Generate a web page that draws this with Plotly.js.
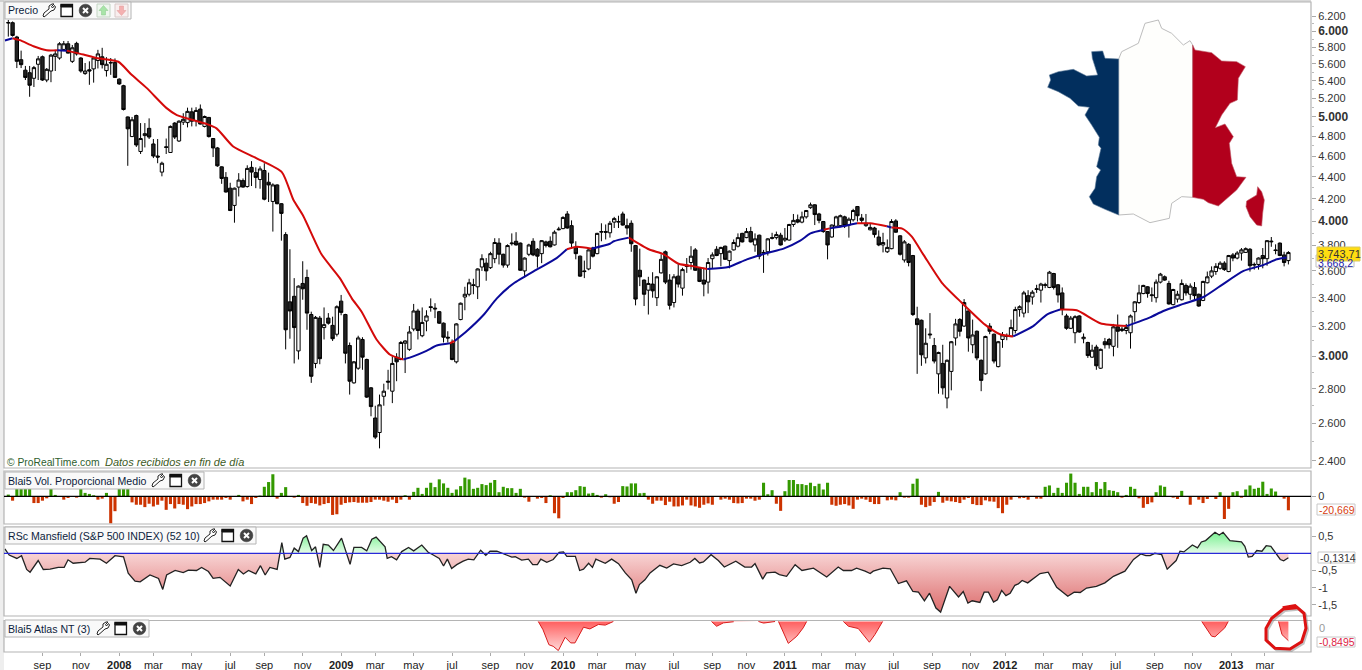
<!DOCTYPE html>
<html><head><meta charset="utf-8">
<script src="https://cdn.plot.ly/plotly-3.0.1.min.js"></script>
<style>html,body{margin:0;padding:0;background:#fff;overflow:hidden}#c{width:1362px;height:670px}</style>
</head><body><div id="c"></div>
<script>
const opens=[6110,6114,5930,5650,5525,5495,5430,5595,5685,5410,
5515,5690,5670,5775,5845,5630,5850,5670,5485,5530,
5540,5640,5685,5520,5610,5615,5420,5345,5000,4795,
5015,4645,4805,4880,4720,4600,4445,4685,4635,4935,
4750,4945,4940,5055,4960,5085,4900,4995,4775,4680,
4495,4395,4295,4140,4305,4365,4310,4490,4440,4375,
4460,4350,4175,4325,4155,3890,3370,3410,3035,3505,
3550,3280,2955,3255,3190,3255,3205,3145,3375,3280,
3070,2835,2925,3110,2980,2805,2630,2550,2755,2845,
2785,2995,2980,3085,3045,3180,3305,3135,3235,3335,
3325,3300,3220,3125,3085,2965,3245,3405,3425,3495,
3480,3630,3660,3625,3695,3820,3730,3645,3815,3835,
3820,3600,3730,3835,3770,3735,3830,3835,3805,3930,
3940,4065,3965,3785,3715,3600,3615,3780,3735,3910,
3915,3905,3995,3995,4065,3965,3985,3800,3605,3530,
3455,3500,3400,3585,3750,3530,3365,3560,3470,3645,
3665,3765,3625,3530,3515,3695,3770,3735,3795,3680,
3765,3795,3900,3865,3915,3805,3885,3745,3750,3865,
3865,3885,3845,3845,3975,4015,3995,4040,4120,4145,
4065,4000,3915,3870,3960,3965,4040,3970,4015,4130,
4030,3965,3930,3945,3870,3805,3750,3775,4005,3880,
3685,3810,3720,3250,3240,2990,3140,3070,2890,2955,
2745,2905,3120,3245,3200,3305,3075,3165,2975,2890,
3200,3145,2935,3110,3130,3130,3170,3315,3290,3415,
3405,3460,3455,3490,3475,3580,3495,3435,3270,3185,
3155,3270,3115,3090,2995,3060,2925,3095,3110,3065,
3195,3170,3170,3155,3300,3365,3430,3480,3415,3400,
3515,3555,3505,3350,3390,3385,3490,3425,3475,3425,
3380,3510,3560,3595,3620,3660,3595,3725,3700,3740,
3745,3770,3645,3650,3720,3695,3830,3765,3820,3725,3680];
const highs=[6150,6130,5945,5760,5575,5575,5575,5695,5700,5550,
5720,5770,5865,5880,5880,5830,5870,5680,5610,5630,
5680,5770,5795,5680,5670,5665,5430,5355,5005,5000,
5025,4935,4935,4985,4770,4770,4545,4775,4910,4945,
4965,5040,5100,5100,5105,5135,5015,5000,4780,4690,
4500,4445,4345,4300,4435,4385,4510,4550,4490,4500,
4530,4440,4340,4330,4160,3910,3770,3545,3490,3675,
3610,3300,3270,3270,3330,3290,3265,3345,3420,3285,
3090,2970,3135,3125,2985,2810,2700,2765,2830,2915,
3000,3020,3100,3105,3200,3355,3320,3330,3310,3395,
3360,3305,3225,3165,3110,3220,3365,3480,3540,3540,
3620,3730,3700,3750,3860,3860,3735,3810,3900,3910,
3825,3705,3815,3860,3780,3845,3840,3875,3925,3955,
4045,4090,4010,3835,3720,3680,3770,3790,3905,3985,
3975,4005,4040,4050,4085,4025,4010,3805,3775,3535,
3555,3590,3560,3730,3760,3575,3575,3655,3625,3700,
3795,3780,3630,3625,3700,3745,3795,3790,3800,3760,
3850,3900,3905,3945,3955,3900,3890,3765,3860,3905,
3915,3905,3945,3980,4065,4060,4085,4100,4165,4150,
4075,4005,3920,3975,4050,4060,4050,4035,4110,4135,
4065,4065,3985,3955,3925,3905,3850,4020,4020,3885,
3845,3820,3725,3335,3245,3185,3290,3120,3030,3075,
2980,3100,3250,3255,3390,3310,3245,3170,2980,3135,
3220,3150,3100,3160,3150,3245,3335,3345,3450,3455,
3455,3495,3510,3510,3600,3585,3500,3475,3285,3270,
3275,3275,3150,3095,3075,3075,3050,3120,3120,3215,
3280,3195,3215,3280,3375,3495,3495,3485,3475,3535,
3585,3565,3525,3465,3450,3535,3505,3505,3515,3430,
3525,3595,3635,3660,3675,3675,3725,3740,3755,3780,
3785,3780,3665,3705,3780,3845,3870,3810,3825,3750,3755];
const lows=[5935,5935,5550,5550,5410,5220,5330,5410,5400,5385,
5385,5515,5650,5755,5725,5610,5700,5495,5470,5355,
5380,5545,5545,5450,5470,5440,5355,5070,4505,4790,
4690,4620,4685,4770,4580,4530,4405,4620,4630,4770,
4740,4915,4890,4900,4900,4920,4890,4785,4590,4495,
4335,4255,4090,3990,4220,4300,4300,4315,4295,4290,
4185,4170,3915,4150,3840,3045,3115,2955,2980,3385,
3175,2835,2925,2950,3110,3210,3100,3130,3275,2955,
2765,2830,2915,2915,2745,2640,2515,2465,2700,2795,
2715,2845,2975,2895,3035,3165,3110,3125,3165,3300,
3255,3215,3090,3090,2975,2955,3240,3310,3410,3425,
3390,3600,3525,3615,3660,3650,3625,3625,3800,3800,
3600,3550,3715,3715,3625,3660,3785,3785,3800,3925,
3935,3940,3780,3690,3555,3545,3605,3705,3730,3835,
3850,3865,3945,3945,3965,3890,3750,3345,3485,3340,
3280,3400,3340,3580,3500,3315,3330,3475,3415,3585,
3610,3600,3515,3410,3430,3620,3715,3635,3685,3620,
3760,3785,3825,3860,3825,3750,3690,3585,3720,3850,
3850,3800,3830,3840,3955,3985,3985,4025,4110,3970,
3985,3905,3690,3865,3945,3960,3945,3865,4000,4000,
3980,3955,3925,3865,3795,3745,3740,3770,3905,3720,
3665,3635,3270,2890,2940,2955,3115,2955,2770,2765,
2685,2790,3070,3130,3195,3030,3020,2975,2785,2885,
3145,2955,2930,3055,3105,3125,3150,3265,3260,3290,
3350,3435,3365,3470,3470,3460,3365,3275,3175,3180,
3085,3155,3085,2990,2990,2915,2920,3050,3050,3000,
3055,3160,3145,3050,3230,3355,3425,3400,3370,3365,
3505,3525,3350,3345,3365,3380,3415,3385,3385,3335,
3375,3505,3545,3570,3610,3600,3590,3675,3690,3680,
3740,3595,3610,3610,3620,3640,3790,3730,3715,3635,3650];
const closes=[6115,5950,5630,5590,5440,5350,5555,5660,5410,5535,
5705,5720,5845,5845,5730,5795,5720,5515,5515,5515,
5670,5720,5590,5595,5615,5440,5365,5080,4875,4970,
4710,4775,4825,4790,4600,4590,4530,4690,4900,4790,
4955,4975,5060,4955,5070,4925,5005,4795,4680,4505,
4385,4260,4095,4295,4370,4305,4480,4445,4395,4475,
4195,4325,4325,4155,4070,3175,3305,3190,3485,3465,
3290,2875,3260,2985,3210,3220,3115,3335,3295,3020,
2845,2965,3120,2995,2750,2695,2525,2705,2785,2840,
2955,2965,3090,3100,3160,3305,3170,3225,3270,3330,
3320,3220,3125,3120,2980,3215,3360,3425,3510,3490,
3615,3695,3600,3735,3825,3730,3645,3800,3820,3805,
3605,3700,3805,3725,3715,3840,3800,3790,3910,3935,
4035,3945,3820,3735,3560,3595,3765,3715,3900,3915,
3910,3985,4025,4000,3970,3945,3815,3390,3555,3425,
3505,3450,3555,3690,3515,3345,3555,3500,3610,3635,
3715,3605,3520,3500,3665,3725,3720,3785,3690,3755,
3825,3865,3830,3915,3830,3855,3715,3740,3855,3860,
3890,3805,3860,3975,4010,3995,4040,4095,4145,4060,
4010,3915,3805,3970,4040,4050,3965,4020,4095,4050,
4010,3985,3950,3890,3805,3825,3785,4000,3910,3730,
3830,3665,3280,3210,3010,3085,3145,2970,3025,2805,
2975,3095,3215,3165,3365,3120,3140,2990,2850,3130,
3165,2970,3095,3140,3135,3190,3315,3335,3435,3370,
3440,3465,3500,3495,3590,3475,3420,3315,3185,3255,
3265,3160,3125,3005,3040,2940,3045,3075,3075,3195,
3165,3180,3190,3270,3370,3435,3490,3430,3420,3515,
3575,3530,3355,3460,3425,3505,3435,3485,3415,3340,
3520,3555,3600,3635,3660,3610,3720,3700,3740,3765,
3775,3640,3650,3700,3695,3840,3835,3760,3720,3665,3743.71];

const maIdx=[-0.8,1,2.7,5.9,9,11.5,13.7,17.6,20.7,25.8,28.9,32.4,37.1,39.5,46.5,48.8,52.7,58.2,64.1,66.8,69.1,73.4,77.7,80.5,82.8,86.3,89.5,92.6,94.9,98,100.4,103.5,104.6,107.4,111.3,114.5,118.4,123.8,128.5,130.9,133.2,136.7,141,141.9,145.4,150.1,153.6,157.1,160.6,163.8,168.8,173.1,177.8,181.7,185.6,188,191.1,192.5,195,198.9,202,205.9,207,209.5,211.7,214.5,218.8,223.4,228.9,232.4,235.5,240.2,243.4,246.5,250.4,255.9,262.1,267.6,270.7,275.4,280.1,284,289.5,294.1,297.3,299.6];
const maVal=[5885,5915,5890,5815,5765,5765,5760,5712,5670,5625,5470,5320,5095,5020,4925,4880,4695,4578,4445,4190,4050,3730,3545,3395,3300,3110,3010,2980,3000,3035,3070,3085,3100,3165,3275,3395,3505,3610,3700,3770,3790,3775,3815,3835,3865,3770,3730,3655,3635,3615,3630,3690,3740,3775,3840,3900,3930,3942,3955,3985,3985,3960,3950,3940,3875,3725,3510,3365,3210,3145,3130,3200,3280,3315,3310,3220,3200,3260,3305,3355,3405,3485,3600,3645,3690,3705];
const maColorSpans=[[1,"#0a0a9a"],[11.5,"#d40a0a"],[13.7,"#0a0a9a"],[92.6,"#d40a0a"],[103.5,"#0a0a9a"],[104.6,"#d40a0a"],[132,"#0a0a9a"],[136.7,"#d40a0a"],[145.4,"#0a0a9a"],[163.8,"#d40a0a"],[191.1,"#0a0a9a"],[192.5,"#d40a0a"],[198.9,"#0a0a9a"],[205.9,"#d40a0a"],[207,"#0a0a9a"],[235.5,"#d40a0a"],[246.5,"#0a0a9a"],[262.1,"#d40a0a"],[301,"#0a0a9a"]];

const volumes=[2.5,-6.5,11,11,11,11,-10,-10,-6.5,-3,
11,2,0,-5,-2.5,0,-2,11,5,3.5,
1.5,-5,-3.5,5,-40,-22,11,11,11,-9,
-12.5,-12.5,-16,-11,-15,-12.5,-6.5,-20,-11.5,-18,
-11.5,-12.5,-19,-15,-11.5,-11.5,-10,-7.5,-5,-5,
-5,-2.5,-5,0,2,-7.5,-5,-11.5,-2.5,1,
14,21,32.5,-3.5,5,13.5,0,-2,2,-10,
-14,-10,-11,-13.5,-11.5,-10,-27.5,-26.5,-12.5,-10,
-9,-8.5,-9.5,-9.5,-9.5,-8.5,-5,-5,-6.5,-8,
-5,-10,-5,1.5,-5,6.5,12.5,3.5,12.5,20,
13.5,25,19,12.5,5,10,15,27.5,25,11,
12.5,18,16.5,20,24,6,14,12,12,5,
11,-2,-8,0,-3.5,-2.5,-10,1.5,-25,-32.5,
-2.5,6,6,9,15,14,4,5,2,-2,
3,-1.5,-11,-8.5,15,14.5,19,19,4.5,5,
-5,-11,-6.5,-6.5,-13,-8,-15,-15,-13.5,-5,
-13.5,-15,-17,-12.5,-10.5,-12.5,0,-5,-3.5,-5,
-10,-10.5,-10,-3.5,-3.5,-6.5,-5,20,3,9,
-11,-21.5,7.5,24,24,18,18,16.5,20,15,
18.5,10,20,-12.5,-14,-12.5,-11.5,-13.5,-18.5,-5,
-3.5,-5,-8.5,-11.5,-11.5,0,-6,-5,-6,6,
-2,-2,18.5,26,-12.5,-16,-14,-8.5,6.5,-9.5,
-6.5,-7.5,-8.5,-10,-5,-2.5,-11.5,-13,-13,-6,
-7.5,-8,-17.5,-25,-12.5,-5,0,-3,-2.5,-5,
0,-3.5,-3.5,14,16,5,12.5,5,20,33.5,
20,3.5,14,14,6,21,11,21,9,8,
6,-2,2,14,11,-3,-17,-11.5,-9,6,
16,14,0,-2,-4,8,0,-12.5,0,-5,
-10,-4,0,-4,6,-33.5,-18.5,6,7.5,-2,
10,16,11,12.5,21.5,3.5,11.5,7,0,-3.5,-20.669];

const rsIdx=[-0.8,.2,2,3.1,4.3,5.1,7,8.2,9.8,11.7,13.1,14,15.2,18,19.1,21.5,23,25,27,28.1,29.7,30.9,33.2,35.2,36.2,37.1,39.1,41,42.2,44.1,45.3,46.9,48,49.6,52,53.9,55.1,56.3,58,59.1,60.2,61.3,63,64.1,64.8,66,67,68,69.1,69.9,71.1,72,73,73.8,75,76.2,78.1,80.1,81,82.8,84,85.2,86.2,88.3,88.8,89.8,91,92.2,93.8,95,96.9,98.4,99.6,101,102,102.9,103.9,
105.1,106.6,107.8,109.1,110.7,111.9,112.9,114.5,116.4,118,118.8,120.3,121.9,122.9,124,124.8,126.2,127.7,129.1,130.1,130.9,132.9,133.9,134.8,136,136.9,137.7,139.9,141.4,143,144.6,146.1,147.1,147.9,149.2,150.4,152.7,154.3,155.9,157.8,159.8,160.9,162,162.9,164.7,166.4,167.8,170.5,172.6,174.2,175,176.8,177.7,179.7,180.7,182.4,184.4,186,188.7,191.8,194.5,195.7,197.6,198.8,200.8,202,202.7,205,206.7,208.6,
210.5,212,213.3,214.7,215.9,217.4,218.5,220.6,222.7,223.8,224.9,225.9,227.7,228.7,229.7,230.9,231.8,232.8,233.8,234.8,235.9,236.7,237.6,238.9,241.8,243.7,245.7,248.3,249.8,251.2,252.7,255,257,259,261.7,263.7,265.4,266.6,267.6,268.7,270.3,271.6,273.7,274.6,275.5,277.5,278.7,279.6,280.6,282.8,283.8,284.7,286.3,289,289.8,290.6,291.5,292.6,293.8,294.8,295.9,298.1,298.9,300];
const rsVal=[.13,-.05,-.15,-.07,-.47,-.55,-.21,-.47,-.46,-.41,-.41,-.19,-.29,-.26,-.15,-.17,-.29,-.07,-.10,-.58,-.81,-.83,-.63,-.73,-1.05,-.63,-.50,-.56,-.49,-.50,-.41,-.53,-.73,-.70,-.95,-.47,-.60,-.50,-.60,-.36,-.63,-.41,-.47,.31,-.17,-.12,.15,.05,.44,.51,.08,.19,-.41,.26,.24,.08,.44,-.32,.17,.17,.07,.41,.47,.19,-.15,-.10,-.19,.05,.17,.07,.24,.03,-.05,-.15,-.37,-.17,-.44,
-.33,-.23,-.17,-.19,.09,-.06,.06,.06,-.02,-.11,-.10,-.20,-.17,-.33,-.33,-.17,-.26,-.18,.03,.04,-.09,-.09,-.50,-.46,-.29,-.41,-.17,-.29,-.17,-.30,-.57,-.77,-1.16,-.91,-.77,-.57,-.35,-.43,-.31,-.36,-.26,-.15,-.28,-.25,-.04,-.21,-.40,-.23,-.40,-.40,-.30,-.75,-.57,-.55,-.62,-.67,-.33,-.50,-.43,-.69,-.40,-.50,-.50,-.43,-.52,-.59,-.52,-.43,-.45,-.88,
-.80,-1.11,-1.13,-1.38,-1.16,-1.59,-1.71,-.96,-1.27,-1.11,-1.45,-1.38,-1.43,-1.13,-1.13,-1.42,-1.35,-1.08,-1.23,-1.16,-.93,-.89,-.79,-.86,-.59,-.55,-.99,-1.25,-1.13,-1.14,-1.01,-.96,-.86,-.67,-.52,-.18,-.02,-.07,-.07,0,-.04,-.46,-.21,.06,.04,.24,.16,.33,.37,.61,.53,.61,.37,.33,.20,-.11,-.09,.08,.06,.22,.20,-.18,-.22,-.1314];

const atIdx=[124.2,125.3,126.7,127.7,128.9,130.5,131.8,132.8,134.8,136.3,138.3,139.9,141.8,null,164.8,166,167.6,170,null,175.8,177,179.7,null,180.5,182.8,184.8,186.3,187.1,null,195.7,196.9,199.2,200.4,201.8,203.1,204.9,null,279.7,282,282.8,285.1,285.9,null,297.7,298.5,300];
const atVal=[0,-.36,-1.03,-1.10,-1.29,-.70,-.95,-.95,-.25,-.33,-.13,-.16,0,null,0,-.21,-.06,-.01,null,0,-.07,0,null,0,-.97,-.65,-.28,0,null,0,-.21,-.31,-.58,-.92,-.58,0,null,0,-.65,-.68,-.28,0,null,0,-.58,-.8495];

const xTickIdx=[8,17,26,34,43,52,60,69,78,86,95,104,113,121,130,138,147,156,165,173,182,190.5,198.5,207.5,216.5,225.5,233.6,242.7,251.7,259.5,268.7,277.6,286.6,294.5];
const xTickText=["sep","nov","2008","mar","may","jul","sep","nov","2009","mar","may","jul","sep","nov","2010","mar","may","jul","sep","nov","2011","mar","may","jul","sep","nov","2012","mar","may","jul","sep","nov","2013","mar"];
const priceTicks=[6200,6000,5800,5600,5400,5200,5000,4800,4600,4400,4200,4000,3800,3600,3400,3200,3000,2800,2600,2400];
const priceMinor=[6100,5900,5700,5500,5300,5100,4900,4700,4500,4300,4100,3900,3700,3500,3300,3100,2900,2700,2500];
const rsTicks=[.5,-.5,-1,-1.5], rsTickText=["0,5","-0,5","-1","-1,5"];

const W=1362,H=670, X=p=>p/W, Y=p=>1-p/H;
const FONT='"Liberation Sans",Arial,sans-serif';
const idx=opens.map((_,i)=>i);
const fmtPrice=v=>{const s=Math.floor(v/1000)+"."+String(v%1000).padStart(3,"0");return v%1000===0?'<span style="font-size:12px"><b>'+s+'</b></span>':s;};
const fmtX=s=>/^\d+$/.test(s)?'<b>'+s+'</b>':s;

const traces=[{type:"candlestick",x:idx,open:opens,high:highs,low:lows,close:closes,xaxis:"x",yaxis:"y",
 increasing:{line:{color:"#000",width:1},fillcolor:"#fafafa"},decreasing:{line:{color:"#000",width:1},fillcolor:"#222"},whiskerwidth:0,hoverinfo:"skip",showlegend:false}];

// moving average, one trace for each coloured stretch
function colorAt(x){for(const s of maColorSpans){if(x<=s[0])return s[1];}return "#0a0a9a";}
let runStart=0;
for(let i=1;i<maIdx.length;i++){
  const c=colorAt((maIdx[i-1]+maIdx[i])/2);
  const next=i<maIdx.length-1?colorAt((maIdx[i]+maIdx[i+1])/2):null;
  if(next!==c){
    traces.push({type:"scatter",mode:"lines",x:maIdx.slice(runStart,i+1),y:maVal.slice(runStart,i+1),xaxis:"x",yaxis:"y",
      line:{color:c,width:2,shape:"spline",smoothing:.6},hoverinfo:"skip",showlegend:false});
    runStart=i;
  }
}
traces.push({type:"bar",x:idx,y:volumes,xaxis:"x",yaxis:"y2",width:.72,marker:{color:volumes.map(v=>v>=0?"#339900":"#cc3300"),line:{width:0}},hoverinfo:"skip",showlegend:false});

// relative strength: split at zero crossings for the two fills
const nx=[],ny=[],px=[],py=[];
for(let i=0;i<rsIdx.length;i++){
  if(i>0&&rsVal[i-1]*rsVal[i]<0){
    const t=rsVal[i-1]/(rsVal[i-1]-rsVal[i]),xc=rsIdx[i-1]+t*(rsIdx[i]-rsIdx[i-1]);
    nx.push(xc);ny.push(0);px.push(xc);py.push(0);
  }
  nx.push(rsIdx[i]);ny.push(Math.min(rsVal[i],0));
  px.push(rsIdx[i]);py.push(Math.max(rsVal[i],0));
}
traces.push({type:"scatter",mode:"lines",x:nx,y:ny,xaxis:"x",yaxis:"y3",fill:"tozeroy",line:{width:0},
 fillgradient:{type:"vertical",colorscale:[[0,"#dc6a6a"],[1,"#f8d4d4"]],start:-1.75,stop:0},hoverinfo:"skip",showlegend:false});
traces.push({type:"scatter",mode:"lines",x:px,y:py,xaxis:"x",yaxis:"y3",fill:"tozeroy",line:{width:0},
 fillgradient:{type:"vertical",colorscale:[[0,"#e6fce8"],[1,"#78f090"]],start:0,stop:.62},hoverinfo:"skip",showlegend:false});
traces.push({type:"scatter",mode:"lines",x:rsIdx,y:rsVal,xaxis:"x",yaxis:"y3",line:{color:"#222",width:1.3},hoverinfo:"skip",showlegend:false});
traces.push({type:"scatter",mode:"lines",x:atIdx,y:atVal,xaxis:"x",yaxis:"y4",fill:"tozeroy",line:{color:"#d81c1c",width:1},
 fillgradient:{type:"vertical",colorscale:[[0,"#ffdada"],[1,"#ff5f5f"]],start:-1.3,stop:0},hoverinfo:"skip",showlegend:false});

const shapes=[],annotations=[];
const poly=(pts,fill,line,width,closed=true,layer="above")=>shapes.push({type:"path",xref:"paper",yref:"paper",layer,
  path:"M"+pts.map(p=>X(p[0]).toFixed(5)+" "+Y(p[1]).toFixed(5)).join("L")+(closed?"Z":""),fillcolor:fill||"rgba(0,0,0,0)",line:{color:line||"rgba(0,0,0,0)",width:width||0}});
const rect=(x0,y0,x1,y1,fill,line,width=1,layer="above")=>shapes.push({type:"rect",xref:"paper",yref:"paper",layer,x0:X(x0),x1:X(x1),y0:Y(y0),y1:Y(y1),fillcolor:fill||"rgba(0,0,0,0)",line:{color:line||"rgba(0,0,0,0)",width:line?width:0}});
const text=(x,y,s,opt={})=>annotations.push({xref:"paper",yref:"paper",x:X(x-2),y:Y(y),xanchor:"left",yanchor:"middle",showarrow:false,text:s,font:{family:FONT,size:opt.size||12,color:opt.color||"#222"}});

// frames
rect(0,0,4,H,"#eeeeee",null,0,"below");
const GREY="#b4b4b4";
rect(4,2,1311,468,null,GREY,1.2); rect(4,471,1311,524,null,GREY,1.2); rect(4,527,1311,616,null,GREY,1.2); rect(4,620.5,1311,652,null,GREY,1.2);
poly([[0,1],[1311,1]],null,GREY,1,false);
// zero lines
shapes.push({type:"line",xref:"paper",yref:"y2",x0:X(4),x1:X(1311),y0:0,y1:0,line:{color:"#000",width:1.3},layer:"above"});
shapes.push({type:"line",xref:"paper",yref:"y3",x0:X(4),x1:X(1311),y0:0,y1:0,line:{color:"#2a2ad8",width:1.2},layer:"above"});

// small toolbar icons
function wrench(x,y){poly([[x,y+12],[x+1,y+9],[x+6,y+5],[x+6,y+2],[x+9,y],[x+11,y],[x+8.5,y+2.5],[x+9.5,y+4],[x+11.5,y+1.5],[x+12.5,y+3],[x+11,y+6],[x+8,y+7],[x+3,y+11.5],[x+1,y+13]],"#fff","#222",1);}
function win(x,y){rect(x,y+1,x+11.5,y+13,"#fff","#111",1.3);rect(x,y+1,x+11.5,y+3.5,"#111","#111",1);}
function closeIcon(x,y){const c=[];for(let a=0;a<24;a++)c.push([x+6.5+6.3*Math.cos(a*Math.PI/12),y+7+6.3*Math.sin(a*Math.PI/12)]);poly(c,"#444","#333",.5);
  poly([[x+4,y+4.5],[x+9,y+9.5]],null,"#fff",2,false);poly([[x+9,y+4.5],[x+4,y+9.5]],null,"#fff",2,false);}
function legendBox(x1,y,label,wx){rect(5,y,x1,y+17,"#f9f9f9",GREY,1);text(8,y+8.5,label,{size:10.6,color:"#0c1c3c"});wrench(wx,y+2);win(wx+18,y+1.5);closeIcon(wx+36,y+1.5);}
legendBox(131,2,"Precio",43);
rect(97,4,110,17,"#eef6ee","#c4d4c4",1);poly([[103.5,5.5],[108,10.5],[105.5,10.5],[105.5,15],[101.5,15],[101.5,10.5],[99,10.5]],"#a8e4a8","#88c888",.5);
rect(115,4,128,17,"#f8eeee","#d8c8c8",1);poly([[121.5,15.5],[126,10.5],[123.5,10.5],[123.5,6],[119.5,6],[119.5,10.5],[117,10.5]],"#f4b0b0","#e09898",.5);
legendBox(204,472,"Blai5 Vol. Proporcional Medio",152);
legendBox(256,527,"RSc Mansfield (S&amp;P 500 INDEX) (52 10)",204);
legendBox(149,620,"Blai5 Atlas NT (3)",97);
text(7,462,"© ProRealTime.com",{size:10.3,color:"#2e5e2e"});
text(105,462,"<i>Datos recibidos en fin de día</i>",{size:11,color:"#3d5a1e"});

// flag map
const fp=a=>a.map(p=>[1030+p[0]/3,p[1]/3]);
const flagBlue=[[266,177],[225,175],[218,153],[185,155],[187,175],[203,225],[170,228],[130,208],[85,215],[58,225],[62,240],[53,262],[85,275],[120,295],[145,318],[178,322],[165,345],[185,375],[208,412],[205,435],[213,445],[205,480],[200,500],[212,510],[200,530],[195,565],[178,590],[190,612],[225,628],[266,645]];
const flagWhite=[[266,177],[275,155],[325,130],[345,70],[385,60],[395,85],[425,100],[460,135],[480,122],[488,135],[488,592],[455,590],[425,610],[418,655],[360,668],[310,642],[266,645]];
const flagRed=[[488,135],[495,150],[545,158],[575,183],[620,185],[646,200],[625,235],[622,300],[600,310],[575,345],[556,383],[585,372],[610,410],[598,430],[605,490],[620,530],[648,532],[620,570],[565,618],[535,608],[520,598],[488,592]];
const corsica=[[683,560],[695,575],[703,600],[698,640],[695,678],[680,675],[660,650],[648,620],[650,603],[680,585]];
poly(fp(flagWhite),"#fefefc","#bdbdbd",1);poly(fp(flagBlue),"#022f5e","#5d7a98",.6);poly(fp(flagRed),"#b2001c","#c05a68",.6);poly(fp(corsica),"#b2001c","#c05a68",.6);

// right hand value boxes
rect(1316,255,1354,267,"#fff","#c0c0c0",1);text(1318,262.5,"3.668,2",{size:10.5,color:"#2222aa"});
rect(1317,247,1360,261,"#ffdd11","#d8c860",1);text(1318,254.3,"3.743,71",{size:11,color:"#333"});
rect(1317,504,1355,515,"#fff","#c8c8c8",1);text(1318.5,509.7,"-20,669",{size:10.5,color:"#d84010"});
rect(1318,552,1355,563,"#fff","#c8c8c8",1);text(1319.5,557.7,"-0,1314",{size:10.5,color:"#333"});
text(1319,628,"0",{size:11,color:"#999"});
rect(1317,637,1355,647,"#fff","#c8c8c8",1);text(1318.5,642.2,"-0,8495",{size:10.5,color:"#dd2244"});

// hand drawn ring and its shadow
const ring=[[1148,428],[1185,422],[1212,445],[1218,490],[1205,530],[1170,552],[1125,550],[1098,525],[1098,490],[1115,460],[1150,432],[1190,428]];
const rp=(a,d)=>a.map(p=>[900+p[0]/3+d,465+p[1]/3+d]);
poly(rp(ring,1.5),null,"rgba(120,120,120,.45)",3,false);
poly(rp(ring,0),null,"#dd1212",3,false);

const tickFont={family:FONT,size:11,color:"#333"};
const yBase={side:"right",anchor:"x",showgrid:false,zeroline:false,ticks:"outside",ticklen:4,tickcolor:"#aaa",tickfont:tickFont,showline:false,tickmode:"array",fixedrange:true};
const layout={width:W,height:H,margin:{l:0,r:0,t:0,b:0},paper_bgcolor:"#fff",plot_bgcolor:"#fff",showlegend:false,boxgap:.22,boxgroupgap:0,bargap:.25,barmode:"overlay",
 xaxis:{domain:[X(4),X(1311)],range:[-1.01,305.3],anchor:"y4",showgrid:false,zeroline:false,showline:false,ticks:"outside",ticklen:3,tickcolor:"#aaa",tickmode:"array",tickvals:xTickIdx,ticktext:xTickText.map(fmtX),tickfont:{family:FONT,size:11,color:"#222"},tickangle:0,rangeslider:{visible:false},fixedrange:true},
 yaxis:Object.assign({},yBase,{domain:[Y(468),Y(2)],type:"log",range:[Math.log10(2364),Math.log10(6390)],tickvals:priceTicks,ticktext:priceTicks.map(fmtPrice),minor:{tickmode:"array",tickvals:priceMinor,ticks:"outside",ticklen:2,tickcolor:"#bbb"}}),
 yaxis2:Object.assign({},yBase,{domain:[Y(524),Y(471)],range:[-40.9,37.3],tickvals:[0],ticktext:["0"]}),
 yaxis3:Object.assign({},yBase,{domain:[Y(616),Y(527)],range:[-1.823,.7645],tickvals:rsTicks,ticktext:rsTickText}),
 yaxis4:Object.assign({},yBase,{domain:[Y(652),Y(620.5)],range:[-1.353,.045],tickvals:[],ticktext:[]}),
 shapes,annotations};
Plotly.newPlot("c",traces,layout,{staticPlot:true,displayModeBar:false});
</script></body></html>
